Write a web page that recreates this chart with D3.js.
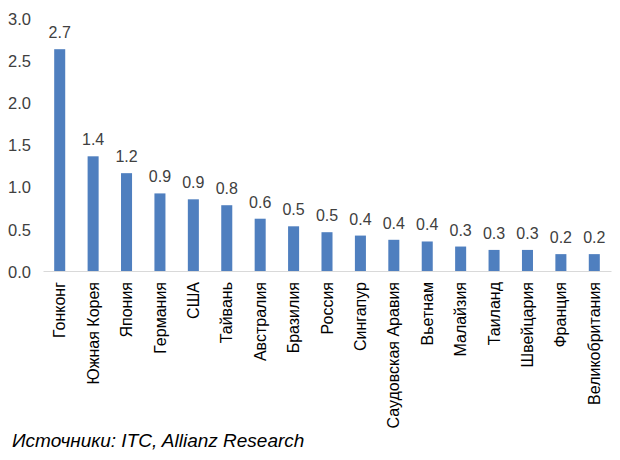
<!DOCTYPE html>
<html>
<head>
<meta charset="utf-8">
<script src="https://cdn.jsdelivr.net/npm/d3@7"></script>
<style>
html,body{margin:0;padding:0;background:#fff;}
svg{display:block;font-family:"Liberation Sans",Arial,sans-serif;}
</style>
</head>
<body>
<svg id="chart" width="620" height="460"></svg>
<script>
const categories = ["Гонконг","Южная Корея","Япония","Германия","США","Тайвань","Австралия","Бразилия","Россия","Сингапур","Саудовская Аравия","Вьетнам","Малайзия","Таиланд","Швейцария","Франция","Великобритания"];
const values = [2.63, 1.36, 1.16, 0.92, 0.85, 0.78, 0.62, 0.53, 0.46, 0.42, 0.37, 0.35, 0.29, 0.25, 0.25, 0.20, 0.20];
const valueLabels = ["2.7","1.4","1.2","0.9","0.9","0.8","0.6","0.5","0.5","0.4","0.4","0.4","0.3","0.3","0.3","0.2","0.2"];
const yTicks = [0, 0.5, 1.0, 1.5, 2.0, 2.5, 3.0];
const sourceText = "Источники: ITC, Allianz Research";

const svg = d3.select("#chart");
const x = d3.scaleBand().domain(categories).range([43, 611]).paddingInner(0.67).paddingOuter(0.335);
const y = d3.scaleLinear().domain([0, 3]).range([271, 18]);

// y axis labels (no line, no ticks)
const yAxis = svg.append("g").attr("transform", "translate(31,0)")
  .call(d3.axisLeft(y).tickValues(yTicks).tickFormat(d3.format(".1f")).tickSize(0).tickPadding(0));
yAxis.select(".domain").remove();
yAxis.selectAll("text").attr("font-size", 16.5).attr("fill", "#404040")
  .attr("font-family", "'Liberation Sans',Arial,sans-serif").attr("dy", "0.38em");

// bars
svg.append("g").selectAll("rect").data(values).join("rect")
  .attr("x", (d, i) => x(categories[i]))
  .attr("width", x.bandwidth())
  .attr("y", d => y(d))
  .attr("height", d => y(0) - y(d))
  .attr("fill", "#4f7fbf");

// x axis
const xAxis = svg.append("g").attr("transform", `translate(0,${y(0)})`)
  .call(d3.axisBottom(x).tickSize(0).tickSizeOuter(0).tickPadding(0));
xAxis.select(".domain").attr("stroke", "#d9d9d9").attr("stroke-width", 1.2);
xAxis.selectAll("text")
  .attr("font-size", 16).attr("fill", "#000")
  .attr("font-family", "'Liberation Sans',Arial,sans-serif")
  .attr("transform", "rotate(-90)")
  .attr("text-anchor", "end")
  .attr("x", -11).attr("y", 0).attr("dy", "0.35em");

// value labels
svg.append("g").selectAll("text").data(values).join("text")
  .attr("x", (d, i) => x(categories[i]) + x.bandwidth() / 2)
  .attr("y", d => y(d) - 11)
  .attr("text-anchor", "middle")
  .attr("font-size", 16)
  .attr("fill", "#404040")
  .text((d, i) => valueLabels[i]);

// source
svg.append("text").attr("x", 12).attr("y", 447)
  .attr("font-size", 19).attr("font-style", "italic").attr("fill", "#000")
  .text(sourceText);
</script>
</body>
</html>
